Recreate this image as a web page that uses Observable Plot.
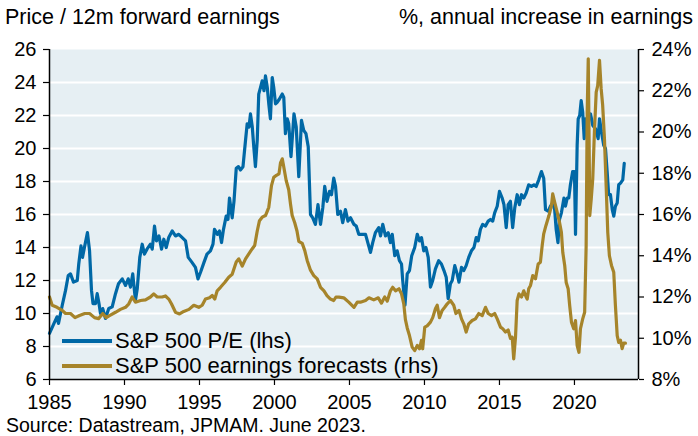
<!DOCTYPE html>
<html>
<head>
<meta charset="utf-8">
<script src="https://cdn.jsdelivr.net/npm/d3@7"></script>
<script src="https://cdn.jsdelivr.net/npm/@observablehq/plot@0.6"></script>
<style>
  html, body { margin: 0; padding: 0; background: #fff; }
  #wrap { position: relative; width: 698px; height: 436px; overflow: hidden; font-family: "Liberation Sans", Arial, sans-serif; color: #000; }
  #wrap svg { position: absolute; left: 0; top: 0; }
  .txt { position: absolute; white-space: nowrap; line-height: 24px; }
  .sw { position: absolute; height: 4px; width: 50px; }
</style>
</head>
<body>
<div id="wrap">
  <div class="txt" id="subL" style="left:5px; top:5px; font-size:21.5px;"></div>
  <div class="txt" id="subR" style="right:5px; top:5px; font-size:21.5px;"></div>
  <div class="txt" id="src" style="left:6px; top:413px; font-size:19.5px;"></div>
  <div class="sw" id="sw1" style="left:62px; top:339px;"></div>
  <div class="txt" id="lg1" style="left:115px; top:329px; font-size:22px;"></div>
  <div class="sw" id="sw2" style="left:62px; top:364px;"></div>
  <div class="txt" id="lg2" style="left:115px; top:354px; font-size:22px;"></div>
</div>
<script>
// ---- texts ----
const subtitleLeft = "Price / 12m forward earnings";
const subtitleRight = "%, annual increase in earnings";
const sourceText = "Source: Datastream, JPMAM. June 2023.";
const seriesNames = ["S&P 500 P/E (lhs)", "S&P 500 earnings forecasts (rhs)"];
const seriesColors = ["#0068a6", "#a6842a"];

// ---- ticks ----
const xTicks = [1985, 1990, 1995, 2000, 2005, 2010, 2015, 2020];
const leftTicks = [6, 8, 10, 12, 14, 16, 18, 20, 22, 24, 26];
const rightTicks = [8, 10, 12, 14, 16, 18, 20, 22, 24];

// ---- S&P 500 P/E (lhs): decimal year, value ----
const peYears = [1985.0,1985.3,1985.5,1985.6,1985.85,1986.07,1986.25,1986.4,1986.6,1986.85,1986.95,1987.1,1987.2,1987.35,1987.53,1987.67,1987.8,1987.9,1988.07,1988.18,1988.3,1988.4,1988.55,1988.73,1988.95,1989.18,1989.4,1989.6,1989.85,1990.07,1990.25,1990.4,1990.55,1990.73,1990.85,1991.02,1991.18,1991.33,1991.5,1991.73,1991.85,1992.0,1992.13,1992.3,1992.47,1992.62,1992.78,1992.95,1993.18,1993.4,1993.62,1993.85,1994.07,1994.25,1994.5,1994.73,1994.9,1995.07,1995.3,1995.5,1995.73,1995.9,1996.0,1996.2,1996.33,1996.47,1996.6,1996.78,1996.9,1997.0,1997.18,1997.3,1997.45,1997.6,1997.73,1997.9,1998.07,1998.18,1998.3,1998.4,1998.52,1998.62,1998.73,1998.85,1998.95,1999.07,1999.18,1999.3,1999.4,1999.52,1999.62,1999.73,1999.85,1999.95,2000.07,2000.18,2000.33,2000.52,2000.62,2000.73,2000.85,2000.95,2001.1,2001.3,2001.45,2001.62,2001.8,2001.95,2002.1,2002.25,2002.4,2002.55,2002.73,2002.9,2003.07,2003.22,2003.35,2003.5,2003.67,2003.8,2003.95,2004.07,2004.22,2004.4,2004.55,2004.73,2004.9,2005.07,2005.3,2005.45,2005.62,2005.85,2006.07,2006.25,2006.4,2006.55,2006.73,2006.95,2007.07,2007.22,2007.4,2007.58,2007.73,2007.85,2008.02,2008.18,2008.33,2008.47,2008.55,2008.7,2008.85,2009.0,2009.15,2009.35,2009.52,2009.67,2009.8,2009.95,2010.1,2010.25,2010.4,2010.55,2010.73,2010.95,2011.13,2011.3,2011.45,2011.58,2011.73,2011.85,2012.02,2012.18,2012.3,2012.47,2012.62,2012.78,2012.95,2013.13,2013.3,2013.45,2013.58,2013.73,2013.88,2014.07,2014.25,2014.4,2014.55,2014.68,2014.85,2015.0,2015.18,2015.3,2015.45,2015.58,2015.73,2015.88,2016.02,2016.18,2016.33,2016.47,2016.62,2016.78,2016.95,2017.13,2017.3,2017.45,2017.62,2017.8,2017.95,2018.07,2018.25,2018.4,2018.55,2018.68,2018.78,2018.9,2019.0,2019.13,2019.3,2019.4,2019.52,2019.62,2019.73,2019.88,2020.0,2020.07,2020.18,2020.25,2020.35,2020.45,2020.55,2020.65,2020.73,2020.85,2021.07,2021.22,2021.4,2021.58,2021.67,2021.8,2021.95,2022.07,2022.18,2022.28,2022.4,2022.52,2022.62,2022.73,2022.85,2022.95,2023.07,2023.22,2023.32];
const peValues = [8.8,9.4,9.8,9.4,10.5,11.4,12.3,12.4,11.9,12.0,13.0,14.1,13.4,14.1,14.9,13.8,11.4,10.6,10.6,11.2,10.6,10.0,10.3,9.7,10.3,10.4,11.2,11.8,12.1,11.7,12.1,11.6,12.4,10.8,11.5,13.4,14.2,13.6,13.9,14.2,13.9,15.3,14.4,14.7,13.9,14.5,14.0,14.6,15.0,14.7,14.8,14.6,14.4,13.4,13.1,12.8,12.1,12.5,13.1,13.6,13.8,14.2,15.1,14.8,15.0,14.3,15.1,15.9,15.7,17.0,15.8,16.8,18.8,18.9,18.7,18.9,20.5,21.5,21.3,22.1,21.3,20.1,18.9,20.5,23.3,23.7,24.1,23.5,24.4,23.7,22.7,21.8,24.3,23.7,22.7,22.8,23.0,23.3,23.1,20.9,21.8,21.5,19.5,22.1,21.3,18.3,21.7,21.1,20.9,20.1,16.0,15.8,15.4,16.6,15.4,16.4,17.7,16.8,17.4,17.2,18.2,17.7,16.0,16.2,15.5,16.3,15.6,15.8,15.4,15.3,14.8,14.8,14.8,14.2,13.7,14.3,14.9,15.2,14.7,15.4,14.7,14.9,14.3,14.8,13.5,13.8,13.2,13.0,12.0,10.5,12.4,12.6,13.5,14.0,14.8,14.4,14.6,13.8,14.0,13.4,11.6,12.0,12.7,13.2,13.0,12.6,12.2,10.9,11.8,12.0,12.9,12.4,11.9,12.8,12.6,12.9,13.4,13.8,14.0,14.6,14.4,15.1,15.4,15.3,15.6,15.7,15.6,16.1,16.5,17.4,17.0,16.6,15.2,16.6,16.8,15.2,16.4,17.2,16.6,17.2,17.0,17.3,17.8,17.7,17.8,17.7,18.1,18.6,18.2,16.3,16.2,16.5,16.7,16.3,15.1,14.3,15.7,16.1,17.0,16.5,17.0,17.0,17.8,18.6,18.6,14.8,20.2,21.8,22.0,22.9,22.2,20.6,21.8,21.7,22.1,21.4,21.2,20.6,21.8,21.0,20.2,20.0,18.6,17.2,17.2,16.3,15.9,16.5,16.7,17.8,17.9,18.1,19.1];

// ---- S&P 500 earnings forecasts (rhs, % annual increase): decimal year, value ----
const egYears = [1985.0,1985.18,1985.5,1985.85,1986.07,1986.4,1986.7,1987.0,1987.35,1987.67,1988.0,1988.27,1988.55,1988.78,1989.0,1989.4,1989.73,1990.07,1990.29,1990.51,1990.73,1991.07,1991.4,1991.73,1991.95,1992.18,1992.51,1992.73,1992.95,1993.13,1993.4,1993.67,1993.95,1994.3,1994.62,1994.95,1995.18,1995.4,1995.67,1995.85,1996.02,1996.18,1996.4,1996.68,1996.95,1997.18,1997.45,1997.62,1997.85,1998.07,1998.3,1998.52,1998.68,1998.85,1999.0,1999.18,1999.4,1999.62,1999.8,1999.95,2000.13,2000.3,2000.4,2000.52,2000.62,2000.78,2000.95,2001.07,2001.18,2001.35,2001.5,2001.62,2001.85,2002.02,2002.18,2002.4,2002.62,2002.85,2003.07,2003.3,2003.5,2003.73,2003.95,2004.1,2004.3,2004.62,2004.95,2005.3,2005.52,2005.73,2006.07,2006.3,2006.62,2006.92,2007.13,2007.35,2007.52,2007.73,2007.88,2008.07,2008.3,2008.47,2008.62,2008.73,2008.85,2009.0,2009.18,2009.35,2009.52,2009.67,2009.8,2009.88,2010.02,2010.18,2010.4,2010.55,2010.73,2010.85,2011.0,2011.18,2011.35,2011.52,2011.73,2011.95,2012.1,2012.3,2012.47,2012.62,2012.78,2012.95,2013.18,2013.4,2013.62,2013.85,2014.07,2014.25,2014.47,2014.68,2014.85,2015.07,2015.22,2015.4,2015.58,2015.73,2015.85,2015.95,2016.07,2016.18,2016.3,2016.47,2016.62,2016.78,2016.85,2016.95,2017.07,2017.22,2017.4,2017.58,2017.73,2017.85,2017.95,2018.1,2018.3,2018.47,2018.55,2018.68,2018.85,2019.0,2019.13,2019.22,2019.35,2019.45,2019.58,2019.68,2019.8,2019.95,2020.07,2020.18,2020.3,2020.4,2020.55,2020.68,2020.78,2020.85,2020.92,2020.98,2021.02,2021.12,2021.22,2021.33,2021.45,2021.55,2021.67,2021.78,2021.88,2022.0,2022.12,2022.22,2022.33,2022.47,2022.62,2022.73,2022.85,2022.95,2023.07,2023.18,2023.28,2023.4];
const egValues = [12.0,11.6,11.5,11.35,11.2,11.2,11.0,11.1,11.2,11.2,11.0,10.95,11.2,11.0,11.1,11.26,11.4,11.5,11.67,12.0,11.75,11.83,11.86,12.0,12.15,12.0,12.0,12.05,11.9,11.67,11.26,11.18,11.3,11.4,11.6,11.5,11.6,11.9,11.96,12.07,11.9,12.3,12.47,12.7,12.96,13.1,13.7,13.85,13.5,13.85,14.1,14.34,14.5,15.2,15.7,15.87,15.95,16.35,17.4,17.8,17.9,17.97,18.5,18.7,18.3,17.65,17.2,16.5,15.95,15.6,15.2,14.7,14.6,14.25,13.77,13.3,13.04,12.88,12.47,12.3,12.07,11.9,11.83,12.0,11.99,11.96,11.75,11.5,11.75,11.75,11.83,11.96,11.86,11.96,11.7,12.0,11.8,12.3,12.47,12.3,12.4,12.15,11.67,10.9,10.5,10.13,9.57,9.4,9.65,9.49,9.9,9.49,10.54,10.6,10.78,11.0,11.43,11.6,11.0,11.35,11.5,11.67,11.83,11.6,11.2,11.35,10.94,10.7,10.3,10.7,10.86,10.94,11.2,11.1,11.5,11.2,11.1,11.2,10.94,10.54,10.46,10.3,10.4,10.0,10.05,9.0,10.05,11.83,12.15,12.0,12.3,12.0,11.9,12.4,12.56,13.04,12.88,13.6,13.69,14.5,15.06,15.47,15.95,16.44,17.0,16.6,16.1,15.63,15.14,14.17,13.53,12.7,12.4,11.6,10.78,10.46,10.86,9.65,9.32,10.46,10.94,11.26,14.5,20.96,23.55,19.35,15.95,16.76,17.73,20.0,21.93,22.25,23.47,22.1,21.3,19.67,17.25,15.14,14.0,13.53,13.2,11.6,10.13,9.8,9.9,9.5,9.76,9.76];

// ---- build ----
const pe = peYears.map((t, i) => ({t, v: peValues[i]}));
const eg = egYears.map((t, i) => ({t, p: egValues[i]}));
const xEnd = 2024.27;
const toLeft = p => 6 + (p - 8) * 1.25;           // rhs % -> lhs scale
const fromLeft = v => 8 + (v - 6) / 1.25;

document.getElementById("subL").textContent = subtitleLeft;
document.getElementById("subR").textContent = subtitleRight;
document.getElementById("src").textContent = sourceText;
document.getElementById("lg1").textContent = seriesNames[0];
document.getElementById("lg2").textContent = seriesNames[1];
document.getElementById("sw1").style.background = seriesColors[0];
document.getElementById("sw2").style.background = seriesColors[1];

const chart = Plot.plot({
  width: 698,
  height: 436,
  marginTop: 49,
  marginBottom: 57,
  marginLeft: 49,
  marginRight: 60,
  x: {domain: [1985, xEnd]},
  y: {domain: [6, 26]},
  style: {fontFamily: "'Liberation Sans', Arial, sans-serif", fontSize: "20px", color: "#000", background: "transparent", overflow: "visible"},
  marks: [
    Plot.frame({fill: "#e6eff3", stroke: "none"}),
    Plot.ruleY(leftTicks.filter(v => v > 6 && v < 26), {stroke: "#ffffff", strokeWidth: 2}),
    Plot.line(pe, {x: "t", y: "v", stroke: seriesColors[0], strokeWidth: 3.2, strokeLinejoin: "round"}),
    Plot.line(eg, {x: "t", y: d => toLeft(d.p), stroke: seriesColors[1], strokeWidth: 3.2, strokeLinejoin: "round"}),
    Plot.ruleX([1985], {stroke: "#000", strokeWidth: 1.5}),
    Plot.ruleX([xEnd], {stroke: "#000", strokeWidth: 1.5}),
    Plot.ruleY([6], {stroke: "#000", strokeWidth: 1.5}),
    Plot.axisY({ticks: leftTicks, tickFormat: d => String(d), tickSize: 6, tickPadding: 7, label: null, strokeWidth: 1.2}),
    Plot.axisY({anchor: "right", ticks: rightTicks.map(toLeft), tickFormat: v => Math.round(fromLeft(v)) + "%", tickSize: 5, tickPadding: 8, label: null, strokeWidth: 1.2}),
    Plot.axisX({ticks: xTicks, tickFormat: d => String(d), tickSize: 6, tickPadding: 9, label: null, strokeWidth: 1.2})
  ]
});
document.getElementById("wrap").prepend(chart);
</script>
</body>
</html>
